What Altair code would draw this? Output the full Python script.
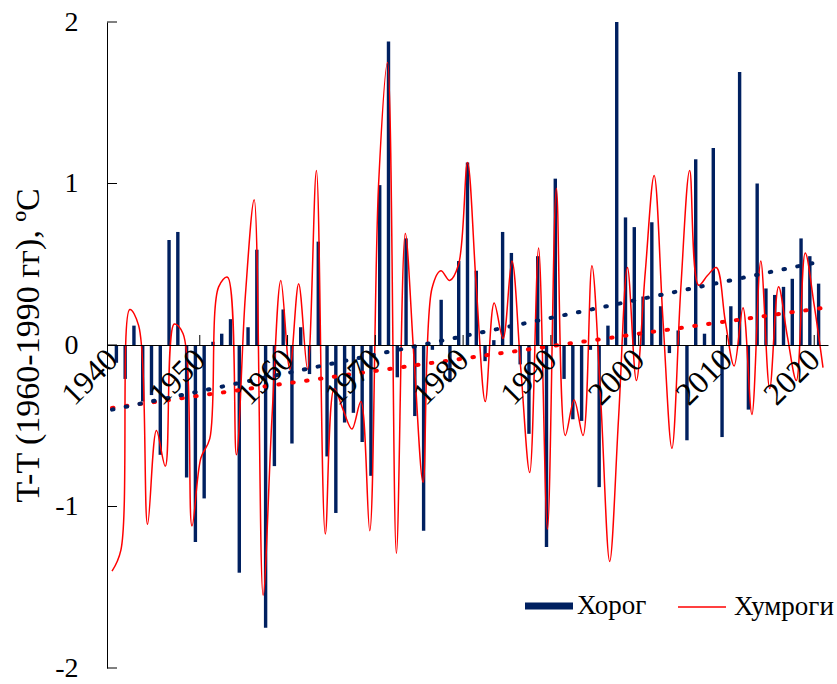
import altair as alt
import pandas as pd

years = list(range(1940, 2021))

khorog = [
    -0.11, -0.21, 0.12, -0.35, -0.31, -0.68, 0.65, 0.70, -0.82, -1.22,
    -0.95, 0.02, 0.07, 0.16, -1.41, 0.11, 0.59, -1.75, -0.75, 0.22,
    -0.61, 0.11, -0.18, 0.64, -0.69, -1.04, -0.48, -0.42, -0.60, -0.81,
    0.99, 1.88, -0.20, 0.66, -0.44, -1.15, -0.03, 0.28, -0.23, 0.52,
    1.13, 0.46, -0.10, 0.03, 0.70, 0.57, -0.12, -0.55, 0.55, -1.25,
    1.03, -0.21, -0.46, -0.47, -0.03, -0.88, 0.12, 2.00, 0.79, 0.73,
    0.30, 0.76, 0.24, -0.05, 0.09, -0.59, 1.15, 0.07, 1.22, -0.57,
    0.24, 1.69, -0.40, 1.00, 0.35, 0.31, 0.36, 0.41, 0.66, 0.55,
    0.38,
]

khumrogi = [
    -1.40, -1.27, 0.22, 0.12, -1.11, -0.53, -0.75, 0.13, 0.07, -1.12,
    -0.70, -0.58, 0.36, 0.42, -0.68, 0.30, 0.90, -1.55, -0.45, 0.40,
    -0.15, 0.38, -0.15, 1.08, -1.17, -0.27, -0.40, -0.52, -0.35, -1.15,
    1.00, 1.75, -1.29, 0.69, -0.10, -0.85, 0.35, 0.46, 0.40, 0.50,
    1.13, 0.35, -0.35, 0.26, 0.04, 0.52, -0.15, -0.79, 0.60, -1.14,
    0.97, -0.56, -0.34, -0.56, 0.49, -0.35, -1.34, -0.45, 0.48, -0.22,
    0.45, 1.05, 0.15, -0.64, 0.35, 1.08, 0.37, 0.43, 0.48, 0.15,
    -0.13, 0.23, -0.43, 0.52, -0.27, 0.36, 0.05, -0.22, 0.57, 0.25,
    -0.14,
]

decade_labels = [1940, 1950, 1960, 1970, 1980, 1990, 2000, 2010, 2020]
y_tick_values = [-2, -1, 0, 1, 2]

trend_ends = [1939.5, 2020.5]
khorog_trend = [-0.40, 0.52]
khumrogi_trend = [-0.39, 0.23]

NAVY = "#002060"
RED = "#FF0000"
FONT = "Liberation Serif"
W, H = 721, 646

df = pd.DataFrame({
    "year": years,
    "khorog": khorog,
    "khumrogi": khumrogi,
    "s1": ["Хорог"] * len(years),
    "s2": ["Хумроги"] * len(years),
})
df_t = pd.DataFrame({"tx": trend_ends, "kt": khorog_trend, "ht": khumrogi_trend})
df_yt = pd.DataFrame({"v": y_tick_values})
df_xt = pd.DataFrame({"d": decade_labels[1:]})

xscale = alt.Scale(domain=[1939.5, 2020.5], nice=False, zero=False)
yscale = alt.Scale(domain=[-2, 2], nice=False)

x_axis = alt.Axis(
    values=[d - 0.5 for d in decade_labels],
    labelExpr="format(datum.value + 0.5, 'd')",
    labelAngle=315, labelAlign="right", labelBaseline="middle",
    labelFont=FONT, labelFontSize=32, labelColor="black", labelPadding=9,
    labelOverlap=False, labelFlush=False, labelBound=False,
    ticks=False, domainColor="black", domainWidth=1, grid=False,
    offset=-H / 2, zindex=1, title=None,
)
y_axis = alt.Axis(
    values=y_tick_values, labelExpr="'' + datum.value",
    labelFont=FONT, labelFontSize=28, labelColor="black", labelPadding=29,
    ticks=False, domainColor="black", domainWidth=1, grid=False,
    title="T-T (1960-1990 гг), ºC", titleFont=FONT, titleFontSize=34,
    titleFontWeight="normal", titleColor="black", titlePadding=9,
)

legend_common = dict(
    orient="none", title=None, labelFont=FONT, labelFontSize=27,
    labelColor="black", padding=0,
)

bars = alt.Chart(df).mark_bar(size=3.4).encode(
    x=alt.X("year:Q", scale=xscale, axis=x_axis),
    y=alt.Y("khorog:Q", scale=yscale, axis=y_axis),
    fill=alt.Fill("s1:N", scale=alt.Scale(domain=["Хорог"], range=[NAVY]),
                  legend=alt.Legend(legendX=418, legendY=560,
                                    symbolType="M-1,-0.15H1V0.15H-1Z",
                                    symbolSize=2304, symbolStrokeWidth=0,
                                    labelOffset=4, **legend_common)),
)

line = alt.Chart(df).transform_calculate(
    xr="datum.year - 0.5 + (datum.year - 1940) / 80"
).mark_line(interpolate="catmull-rom", strokeWidth=1.5).encode(
    x=alt.X("xr:Q", scale=xscale, axis=x_axis),
    y=alt.Y("khumrogi:Q", scale=yscale, axis=y_axis),
    stroke=alt.Stroke("s2:N", scale=alt.Scale(domain=["Хумроги"], range=[RED]),
                      legend=alt.Legend(legendX=570, legendY=560,
                                        symbolType="stroke", symbolSize=2304,
                                        symbolStrokeWidth=1.5, labelOffset=7,
                                        **legend_common)),
)

trend_b = alt.Chart(df_t).mark_line(
    color=NAVY, strokeWidth=4, strokeDash=[1.5, 12.5], strokeCap="round"
).encode(
    x=alt.X("tx:Q", scale=xscale, axis=x_axis),
    y=alt.Y("kt:Q", scale=yscale, axis=y_axis),
)
trend_r = alt.Chart(df_t).mark_line(
    color=RED, strokeWidth=4, strokeDash=[1.5, 12.5], strokeCap="round"
).encode(
    x=alt.X("tx:Q", scale=xscale, axis=x_axis),
    y=alt.Y("ht:Q", scale=yscale, axis=y_axis),
)

yticks = alt.Chart(df_yt).mark_rule(color="black", strokeWidth=1).encode(
    x=alt.value(0), x2=alt.value(10),
    y=alt.Y("v:Q", scale=yscale, axis=y_axis),
)
xticks = alt.Chart(df_xt).transform_calculate(b="datum.d - 0.5").mark_rule(
    color="black", strokeWidth=1
).encode(
    x=alt.X("b:Q", scale=xscale, axis=x_axis),
    y=alt.datum(0), y2=alt.datum(0.062),
)

chart = alt.layer(bars, line, trend_r, trend_b, yticks, xticks).properties(
    width=W, height=H,
    autosize=alt.AutoSizeParams(type="none"),
    padding={"left": 107, "top": 22, "right": 9, "bottom": 16},
    background="white",
).configure_view(strokeWidth=0)

chart.save("out.html", embed_options={"renderer": "svg", "actions": False})
